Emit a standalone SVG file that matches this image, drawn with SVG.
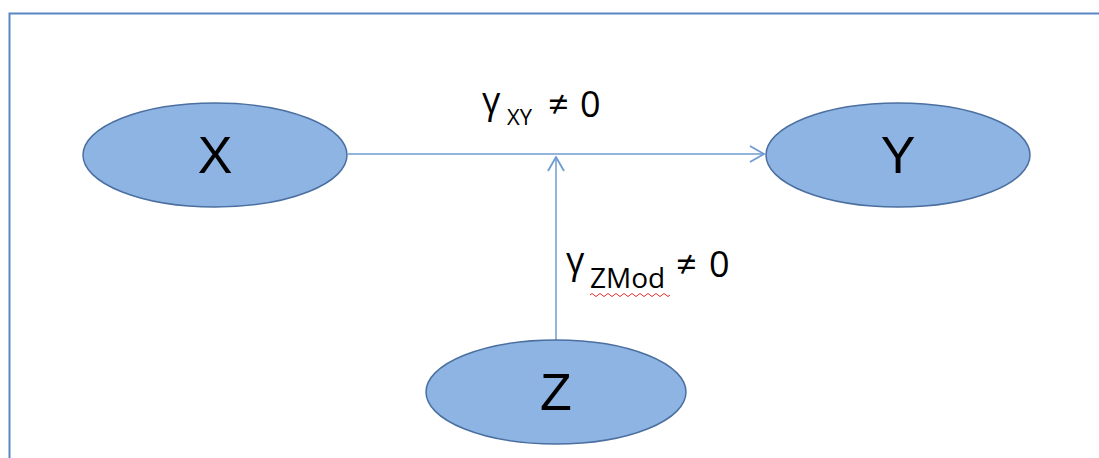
<svg xmlns="http://www.w3.org/2000/svg" width="1099" height="458" viewBox="0 0 1099 458">
<style>
.node{fill:#8eb4e3;stroke:#4a6fa0;stroke-width:1.5}
.lbl{font-family:"Liberation Sans",Arial,sans-serif;font-size:52px;fill:#000;text-anchor:middle}
.eq{font-family:"Open Sans","Liberation Sans",sans-serif;font-size:36px;fill:#000}
.sub{font-family:"Open Sans","Liberation Sans",sans-serif;fill:#000}
.conn{stroke:#6f9bd1;stroke-width:1.5;fill:none}
</style>
<defs>
<marker id="arr" viewBox="0 0 16 18" refX="15" refY="9" markerWidth="16" markerHeight="18" markerUnits="userSpaceOnUse" orient="auto">
<path d="M1,1 L15,9 L1,17" fill="none" stroke="#6f9bd1" stroke-width="1.8"/>
</marker>
</defs>
<rect width="1099" height="458" fill="#fff"/>
<path d="M9.5,458 V13.5 H1099" fill="none" stroke="#5b86c4" stroke-width="2"/>
<g id="connectors">
<line class="conn" x1="348" y1="154" x2="764" y2="154" marker-end="url(#arr)"/>
<line class="conn" x1="556" y1="340" x2="556" y2="157" marker-end="url(#arr)"/>
</g>
<g id="node-X">
<ellipse class="node" cx="215" cy="155" rx="132" ry="52"/>
<text class="lbl" x="215" y="173">X</text>
</g>
<g id="node-Y">
<ellipse class="node" cx="898" cy="155" rx="132" ry="52"/>
<text class="lbl" x="898" y="173">Y</text>
</g>
<g id="node-Z">
<ellipse class="node" cx="556" cy="392" rx="130" ry="52"/>
<text class="lbl" x="556" y="410">Z</text>
</g>
<g id="label-xy">
<text class="eq" x="482" y="113">γ</text>
<text class="sub" x="507" y="125" font-size="22">XY</text>
<text class="eq" x="548" y="117">≠</text>
<text class="eq" x="580" y="117">0</text>
</g>
<g id="label-zmod">
<text class="eq" x="566" y="273">γ</text>
<text class="sub" x="590" y="288" font-size="28">ZMod</text>
<text class="eq" x="676" y="277">≠</text>
<text class="eq" x="709" y="277">0</text>
<path d="M590,295 q2,-3 4,0 t4,0 t4,0 t4,0 t4,0 t4,0 t4,0 t4,0 t4,0 t4,0 t4,0 t4,0 t4,0 t4,0 t4,0 t4,0 t4,0 t4,0 t4,0 t4,0" fill="none" stroke="#e03030" stroke-width="1"/>
</g>
</svg>
